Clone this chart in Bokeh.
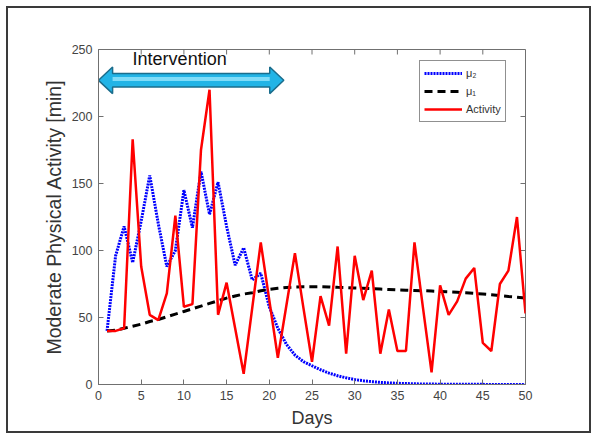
from bokeh.plotting import figure
from bokeh.models import Range1d, FixedTicker
from bokeh.core.properties import value
from bokeh.embed import file_html
from bokeh.resources import INLINE

# ---- data ----
days = list(range(1, 51))
activity = [40, 40, 42, 183, 88, 52, 48, 68, 126, 58,
            60, 175, 220, 52, 76, 42, 8, 57, 106, 63,
            20, 59, 98, 57, 17, 66, 44, 103, 23, 96,
            63, 85, 23, 56, 25, 25, 106, 57, 9, 74,
            52, 62, 79, 87, 31, 25, 75, 85, 125, 53]
mu2 = [40, 96, 118, 91, 122, 156, 120, 88, 100, 145,
       117, 159, 127, 151, 118, 89, 102, 78, 83, 58,
       42, 30, 22, 17, 14, 11, 8.5, 6.5, 5, 3.7,
       2.8, 2.1, 1.6, 1.2, 0.9, 0.7, 0.5, 0.4, 0.3, 0.25,
       0.2, 0.15, 0.1, 0.1, 0.1, 0.05, 0.05, 0.05, 0.05, 0.05]
mu1 = [40, 40.5, 42, 43.5, 45, 47, 48.5, 50.5, 52.5, 54.5,
       56.5, 58.5, 60.5, 62.5, 64.5, 66, 67.5, 68.5, 70, 71,
       71.8, 72.4, 72.8, 73, 73, 73, 72.8, 72.5, 72.3, 72,
       71.8, 71.5, 71.2, 70.9, 70.6, 70.4, 70.2, 70, 69.7, 69.4,
       69.1, 68.8, 68.5, 68, 67.5, 67, 66.3, 65.7, 65.2, 64.5]
x_ticks = [0, 5, 10, 15, 20, 25, 30, 35, 40, 45, 50]
y_ticks = [0, 50, 100, 150, 200, 250]
x_min, x_max = 0, 50
y_min, y_max = 0, 250
intervention_start = 0
intervention_end = 21.7
intervention_level = 227
intervention_label = "Intervention"
intervention_label_x = 9.5
intervention_label_y = 243

FONT = "Liberation Sans"
GRAY = "#444444"
FRAME = "#707070"

p = figure(width=585, height=427, output_backend="svg", toolbar_location=None,
           x_range=Range1d(x_min, x_max), y_range=Range1d(y_min, y_max),
           min_border_left=90, min_border_right=68, min_border_top=41, min_border_bottom=51)
p.styles = {"border": "2px solid #3a3a3a", "margin": "6px"}
p.grid.visible = False
p.outline_line_color = FRAME
p.outline_line_width = 1

for ax in (p.xaxis[0], p.yaxis[0]):
    ax.major_tick_in = 5
    ax.major_tick_out = 0
    ax.minor_tick_line_color = None
    ax.axis_line_color = FRAME
    ax.major_tick_line_color = FRAME
    ax.major_label_text_font = FONT
    ax.major_label_text_font_size = "12.5px"
    ax.major_label_text_color = GRAY
    ax.axis_label_text_font = FONT
    ax.axis_label_text_font_style = "normal"
    ax.axis_label_text_color = "#333333"
p.xaxis[0].ticker = FixedTicker(ticks=x_ticks)
p.yaxis[0].ticker = FixedTicker(ticks=y_ticks)
p.xaxis[0].axis_label = "Days"
p.xaxis[0].axis_label_text_font_size = "18px"
p.xaxis[0].axis_label_standoff = 5
p.xaxis[0].major_label_standoff = 6
p.yaxis[0].axis_label = "Moderate Physical Activity [min]"
p.yaxis[0].axis_label_text_font_size = "19.5px"
p.yaxis[0].axis_label_standoff = 4
p.yaxis[0].major_label_standoff = 6

# mirrored inward tick marks on top and right edges (MATLAB box style)
tick_len_y = 5 * (y_max - y_min) / 335.0
tick_len_x = 5 * (x_max - x_min) / 427.0
p.segment(x0=x_ticks, y0=[y_max] * len(x_ticks), x1=x_ticks, y1=[y_max - tick_len_y] * len(x_ticks),
          line_color=FRAME, line_width=1)
p.segment(x0=[x_max] * len(y_ticks), y0=y_ticks, x1=[x_max - tick_len_x] * len(y_ticks), y1=y_ticks,
          line_color=FRAME, line_width=1)

# series
p.line(days, mu2, line_color="#0000ff", line_width=3, line_dash="2 1", legend_label="\u03bc\u2082")
p.line(days, mu1, line_color="#000000", line_width=3, line_dash="8 5", legend_label="\u03bc\u2081")
p.line(days, activity, line_color="#ff0000", line_width=2.5, legend_label="Activity")

# intervention arrow (built from the intervention start/end values)
hl = 1.65   # head length in days
hh = 9.9    # head half-height
sh = 5.0    # shaft half-height
x0, x1, yc = intervention_start, intervention_end, intervention_level
ax_pts = [x0, x0 + hl, x0 + hl, x1 - hl, x1 - hl, x1, x1 - hl, x1 - hl, x0 + hl, x0 + hl]
ay_pts = [yc, yc + hh, yc + sh, yc + sh, yc + hh, yc, yc - hh, yc - sh, yc - sh, yc - hh]
p.patch(ax_pts, ay_pts, fill_color="#22b4e6", line_color="#1b6d8c", line_width=1.5)
p.line([x0 + hl, x1 - hl], [yc + 1.0, yc + 1.0], line_color="#7fdcf8", line_width=4)
p.text(x=[intervention_label_x], y=[intervention_label_y], text=[intervention_label],
       text_font=value(FONT), text_font_size="18px", text_color="#111111",
       text_align="center", text_baseline="middle")

lg = p.legend[0]
lg.location = (321, 262)
lg.border_line_color = "#222222"
lg.border_line_width = 1
lg.background_fill_color = "white"
lg.background_fill_alpha = 1
lg.label_text_font = FONT
lg.label_text_font_size = "11px"
lg.label_text_color = "#333333"
lg.glyph_width = 38
lg.glyph_height = 16
lg.label_height = 16
lg.label_standoff = 4
lg.spacing = 2
lg.padding = 4
lg.margin = 0

open("out.html", "w").write(file_html(p, INLINE))
